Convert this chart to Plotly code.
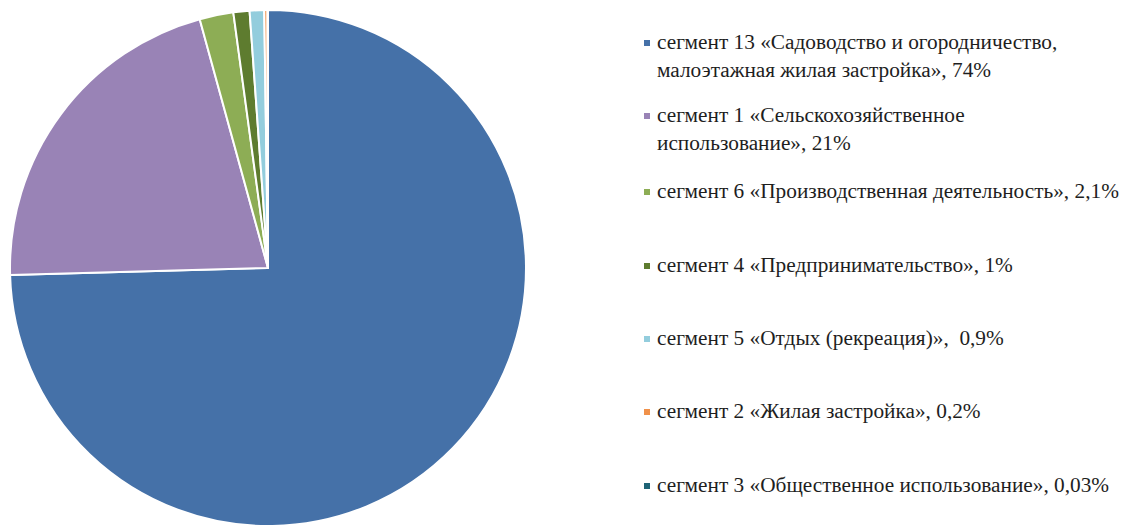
import plotly.graph_objects as go

labels = [
    "сегмент 13 «Садоводство и огородничество,<br>малоэтажная жилая застройка», 74%",
    "сегмент 1 «Сельскохозяйственное<br>использование», 21%",
    "сегмент 6 «Производственная деятельность», 2,1%",
    "сегмент 4 «Предпринимательство», 1%",
    "сегмент 5 «Отдых (рекреация)»,  0,9%",
    "сегмент 2 «Жилая застройка», 0,2%",
    "сегмент 3 «Общественное использование», 0,03%",
]
values = [74, 21, 2.1, 1, 0.9, 0.2, 0.03]
colors = ["#4571A8", "#9983B6", "#8DAD55", "#5E7C2F", "#93CDDD", "#F0914A", "#1F6476"]

W, H = 1123, 526
# legend first-line centres (px from top)
legend_y = [43, 116, 192, 266, 339, 412, 486]

fig = go.Figure()
fig.add_trace(go.Pie(
    labels=labels,
    values=values,
    sort=False,
    direction="clockwise",
    rotation=0,
    textinfo="none",
    hoverinfo="label",
    showlegend=False,
    marker=dict(colors=colors, line=dict(color="white", width=2)),
    domain=dict(x=[10 / W, 526 / W], y=[0, 516 / H]),
))

annotations = []
shapes = []
for lab, col, yc in zip(labels, colors, legend_y):
    annotations.append(dict(
        x=655 / W, y=1 - (yc - 15) / H, xref="paper", yref="paper",
        xanchor="left", yanchor="top", align="left", showarrow=False,
        text=lab,
        font=dict(family="Liberation Serif, Times New Roman, serif",
                  size=21.3, color="#1E1E1E"),
    ))
    shapes.append(dict(
        type="rect", xref="paper", yref="paper",
        x0=644 / W, x1=650 / W, y0=1 - (yc + 3) / H, y1=1 - (yc - 3) / H,
        fillcolor=col, line=dict(width=0),
    ))

fig.update_layout(
    width=W, height=H,
    margin=dict(l=0, r=0, t=0, b=0),
    paper_bgcolor="white", plot_bgcolor="white",
    annotations=annotations, shapes=shapes,
)
fig.write_html("out.html")
